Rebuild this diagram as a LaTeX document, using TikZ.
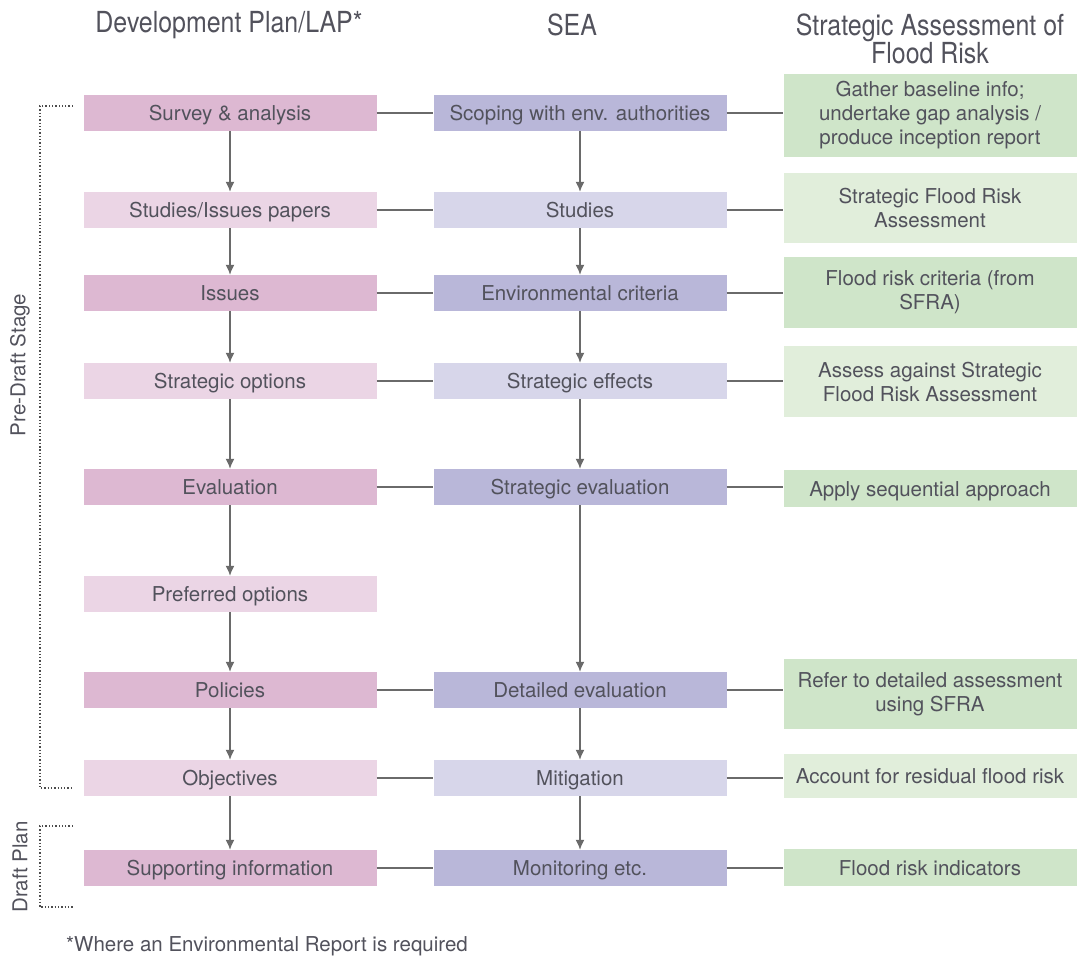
\documentclass[tikz,border=0pt]{standalone}
\usepackage{fontspec}
\setmainfont{TeX Gyre Heros}
\newfontfamily\headfont[FakeStretch=0.86]{TeX Gyre Heros}
\usetikzlibrary{arrows.meta}
\definecolor{pinkA}{HTML}{DDB8D2}
\definecolor{pinkB}{HTML}{EBD5E5}
\definecolor{lavA}{HTML}{B9B7D9}
\definecolor{lavB}{HTML}{D7D6EA}
\definecolor{greenA}{HTML}{CFE5C9}
\definecolor{greenB}{HTML}{E1EEDB}
\definecolor{txt}{HTML}{52525C}
\definecolor{wire}{HTML}{6A6A6A}
\tikzset{
  cell/.style={minimum width=293pt,inner sep=0pt,text=txt,
    font=\fontsize{20.5}{24}\selectfont},
  box/.style={cell,minimum height=36pt,text height=16pt,text depth=1pt},
  fbox/.style={cell,minimum height=#1,align=center},
  link/.style={draw=wire,line width=1.4pt},
  flow/.style={link,->},
  bracket/.style={draw=black!70,line width=1.3pt,dotted},
  side/.style={rotate=90,text=txt,font=\fontsize{20.5}{24}\selectfont},
  head/.style={text=txt,font=\headfont\fontsize{29}{28}\selectfont,align=center}
}
\begin{document}
\begin{tikzpicture}[x=1pt,y=-1pt,>={Latex[length=10pt,width=9pt]}]
\useasboundingbox (0,0) rectangle (1079,959);
% headings
\node[head] (hdp) at (229,25) {Development Plan/LAP*};
\node[head] (hsea) at (572,25) {SEA};
\node[head] (hfr) at (930,39) {Strategic Assessment of\\Flood Risk};
% development plan column
\node[box,fill=pinkA] (d1) at (230,113) {Survey \& analysis};
\node[box,fill=pinkB] (d2) at (230,210) {Studies/Issues papers};
\node[box,fill=pinkA] (d3) at (230,293) {Issues};
\node[box,fill=pinkB] (d4) at (230,381) {Strategic options};
\node[box,fill=pinkA] (d5) at (230,487) {Evaluation};
\node[box,fill=pinkB] (d6) at (230,594) {Preferred options};
\node[box,fill=pinkA] (d7) at (230,690) {Policies};
\node[box,fill=pinkB] (d8) at (230,778) {Objectives};
\node[box,fill=pinkA] (d9) at (230,868) {Supporting information};
% SEA column
\node[box,fill=lavA] (s1) at (580,113) {Scoping with env. authorities};
\node[box,fill=lavB] (s2) at (580,210) {Studies};
\node[box,fill=lavA] (s3) at (580,293) {Environmental criteria};
\node[box,fill=lavB] (s4) at (580,381) {Strategic effects};
\node[box,fill=lavA] (s5) at (580,487) {Strategic evaluation};
\node[box,fill=lavA] (s7) at (580,690) {Detailed evaluation};
\node[box,fill=lavB] (s8) at (580,778) {Mitigation};
\node[box,fill=lavA] (s9) at (580,868) {Monitoring etc.};
% flood risk column
\node[fbox=83pt,fill=greenA] (f1) at (930,115.5) {Gather baseline info;\\undertake gap analysis /\\produce inception report};
\node[fbox=70pt,fill=greenB] (f2) at (930,208) {Strategic Flood Risk\\Assessment};
\node[fbox=71pt,fill=greenA] (f3) at (930,292.5) {Flood risk criteria (from\\SFRA)};
\node[fbox=71pt,fill=greenB] (f4) at (930,381.5) {Assess against Strategic\\Flood Risk Assessment};
\node[box,minimum height=37pt,fill=greenA] (f5) at (930,488.5) {Apply sequential approach};
\node[fbox=70pt,fill=greenA] (f7) at (930,694) {Refer to detailed assessment\\using SFRA};
\node[box,minimum height=44pt,fill=greenB] (f8) at (930,776) {Account for residual flood risk};
\node[box,minimum height=37pt,fill=greenA] (f9) at (930,867.5) {Flood risk indicators};
% arrows down
\draw[flow] (d1)--(d2);
\draw[flow] (d2)--(d3);
\draw[flow] (d3)--(d4);
\draw[flow] (d4)--(d5);
\draw[flow] (d5)--(d6);
\draw[flow] (d6)--(d7);
\draw[flow] (d7)--(d8);
\draw[flow] (d8)--(d9);
\draw[flow] (s1)--(s2);
\draw[flow] (s2)--(s3);
\draw[flow] (s3)--(s4);
\draw[flow] (s4)--(s5);
\draw[flow] (s5)--(s7);
\draw[flow] (s7)--(s8);
\draw[flow] (s8)--(s9);
% links across
\draw[link] (d1)--(s1); \draw[link] (s1.east)--(s1.east -| f1.west);
\draw[link] (d2)--(s2); \draw[link] (s2.east)--(s2.east -| f2.west);
\draw[link] (d3)--(s3); \draw[link] (s3.east)--(s3.east -| f3.west);
\draw[link] (d4)--(s4); \draw[link] (s4.east)--(s4.east -| f4.west);
\draw[link] (d5)--(s5); \draw[link] (s5.east)--(s5.east -| f5.west);
\draw[link] (d7)--(s7); \draw[link] (s7.east)--(s7.east -| f7.west);
\draw[link] (d8)--(s8); \draw[link] (s8.east)--(s8.east -| f8.west);
\draw[link] (d9)--(s9); \draw[link] (s9.east)--(s9.east -| f9.west);
% stage brackets
\coordinate (pt) at (73,106);
\coordinate (pb) at (73,788);
\coordinate (dt) at (73,826);
\coordinate (db) at (73,907);
\draw[bracket] (pt)-|(40,447)|-(pb);
\draw[bracket] (dt)-|(40,866)|-(db);
\node[side] (pre) at (20,365) {Pre-Draft Stage};
\node[side] (dra) at (20,867) {Draft Plan};
% footnote
\node[anchor=west,text=txt,font=\fontsize{20.5}{24}\selectfont,inner sep=0pt] (note) at (66,946) {*Where an Environmental Report is required};
\end{tikzpicture}
\end{document}
